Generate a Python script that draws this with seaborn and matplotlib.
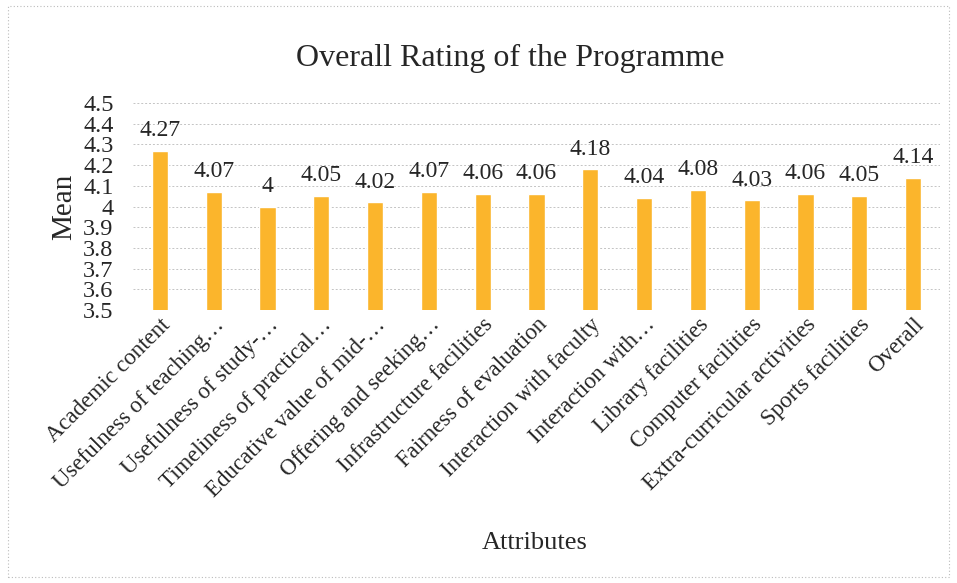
import matplotlib
matplotlib.use("Agg")
import matplotlib.pyplot as plt
import seaborn as sns
import pandas as pd
from matplotlib.patches import Rectangle

categories = [
    "Academic content",
    "Usefulness of teaching…",
    "Usefulness of study-…",
    "Timeliness of practical…",
    "Educative value of mid-…",
    "Offering and seeking…",
    "Infrastructure facilities",
    "Fairness of evaluation",
    "Interaction with faculty",
    "Interaction with…",
    "Library facilities",
    "Computer facilities",
    "Extra-curricular activities",
    "Sports facilities",
    "Overall",
]
means = [4.27, 4.07, 4.00, 4.05, 4.02, 4.07, 4.06, 4.06, 4.18, 4.04, 4.08, 4.03, 4.06, 4.05, 4.14]
yticks = [3.5, 3.6, 3.7, 3.8, 3.9, 4.0, 4.1, 4.2, 4.3, 4.4, 4.5]
ytick_labels = ["3.5", "3.6", "3.7", "3.8", "3.9", "4", "4.1", "4.2", "4.3", "4.4", "4.5"]

sns.set_theme(style="white")
plt.rcParams['font.family'] = ['Liberation Serif', 'DejaVu Serif']

df = pd.DataFrame({"Attributes": categories, "Mean": means})

fig = plt.figure(figsize=(9.57, 5.83), dpi=100)
ax = fig.add_axes([133/957, 1-310/583, (940-133)/957, (310-103)/583])

sns.barplot(data=df, x="Attributes", y="Mean", color="#FBB52C", width=0.3,
            saturation=1, ax=ax, zorder=3)
ax.set_ylim(3.5, 4.5)
ax.set_xlim(-0.5, len(categories)-0.5)
ax.set_yticks(yticks)
ax.set_yticklabels(ytick_labels, fontsize=17.5)
ax.tick_params(axis='y', length=0, pad=14)
ax.tick_params(axis='x', length=0, pad=3)
ax.set_xticks(range(len(categories)))
ax.set_xticklabels(categories, rotation=45, ha='right', rotation_mode='anchor', fontsize=16.5)

for sp in ax.spines.values():
    sp.set_visible(False)
ax.grid(axis='y', color='#c4c4c4', linestyle=(0, (2, 2)), linewidth=0.7, zorder=0)
ax.set_axisbelow(True)

ax.bar_label(ax.containers[0], labels=[f"{v:g}" for v in means], padding=7, fontsize=17)

ax.set_ylabel("Mean", fontsize=21, labelpad=4)
ax.set_xlabel("")
fig.text(535/957, 1-543/583, "Attributes", ha='center', va='center', fontsize=19)
fig.text(510/957, 1-58/583, "Overall Rating of the Programme", ha='center', va='center', fontsize=23)

fig.patches.append(Rectangle((8/957, 6/583), 1-16/957, 1-12/583, transform=fig.transFigure,
                             fill=False, edgecolor='#bbbbbb', linestyle=(0, (1, 2)), linewidth=0.8))

fig.savefig("out.png", dpi=100, facecolor='white')
